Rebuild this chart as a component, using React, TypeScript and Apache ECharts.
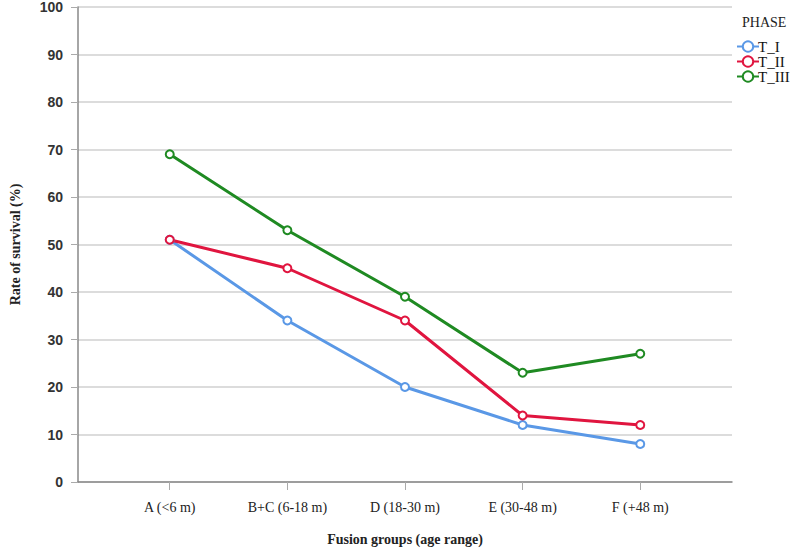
import React, { useEffect, useRef } from "react";
import * as echarts from "echarts";

const categories = ["A (<6 m)", "B+C (6-18 m)", "D (18-30 m)", "E (30-48 m)", "F (+48 m)"];
const seriesNames = ["T_I", "T_II", "T_III"];
const tI = [51, 34, 20, 12, 8];
const tII = [51, 45, 34, 14, 12];
const tIII = [69, 53, 39, 23, 27];
const colors = ["#5a98e6", "#e0153f", "#1f8a22"];
const yTicks = [0, 10, 20, 30, 40, 50, 60, 70, 80, 90, 100];

export default function App() {
  const ref = useRef<HTMLDivElement>(null);
  useEffect(() => {
    if (!ref.current) return;
    const chart = echarts.init(ref.current, null, { renderer: "svg" });
    const idx = categories.map((_, i) => i);
    const mk = (name: string, vals: number[], color: string) => ({
      name,
      type: "line",
      data: vals.map((v, i) => [i, v]),
      symbol: "emptyCircle",
      symbolSize: 8,
      lineStyle: { color, width: 3 },
      itemStyle: { color, borderColor: color, borderWidth: 1 },
      emphasis: { disabled: true },
    });
    chart.setOption({
      animation: false,
      backgroundColor: "#ffffff",
      grid: { left: 70, right: 68, top: 5, bottom: 68 },
      title: {
        text: "PHASE",
        left: 737,
        top: 10,
        textStyle: { fontFamily: "Liberation Serif", fontSize: 14, fontWeight: "normal", color: "#222" },
      },
      legend: {
        orient: "vertical",
        left: 731,
        top: 34,
        itemWidth: 22,
        itemHeight: 13,
        itemGap: 0,
        data: seriesNames,
        textStyle: { fontFamily: "Liberation Serif", fontSize: 15, color: "#111", padding: [0, 0, 0, -6] },
      },
      xAxis: {
        type: "value",
        min: -0.78,
        max: 4.78,
        name: "Fusion groups (age range)",
        nameLocation: "middle",
        nameGap: 50,
        nameTextStyle: { fontFamily: "Liberation Serif", fontSize: 14, fontWeight: "bold", color: "#222" },
        axisLine: { show: true, onZero: false, lineStyle: { color: "#888", width: 1.5 } },
        axisTick: { show: true, customValues: idx, length: 8, lineStyle: { color: "#aaa", width: 1 } },
        axisLabel: {
          customValues: idx,
          formatter: (v: number) => categories[Math.round(v)] ?? "",
          margin: 18,
          fontFamily: "Liberation Serif",
          fontSize: 14,
          color: "#222",
        },
        splitLine: { show: false },
      },
      yAxis: {
        type: "value",
        min: 0,
        max: 100,
        interval: 10,
        name: "Rate of survival (%)",
        nameLocation: "middle",
        nameGap: 56,
        nameTextStyle: { fontFamily: "Liberation Serif", fontSize: 14, fontWeight: "bold", color: "#222" },
        axisLine: { show: true, onZero: false, lineStyle: { color: "#888", width: 1.5 } },
        axisTick: { show: true, length: 7, lineStyle: { color: "#aaa", width: 1 } },
        axisLabel: {
          customValues: yTicks,
          margin: 15,
          fontFamily: "Liberation Sans",
          fontSize: 14,
          fontWeight: "bold",
          color: "#333",
        },
        splitLine: { show: true, lineStyle: { color: "#d0d0d0", width: 1.5 } },
      },
      series: [mk(seriesNames[0], tI, colors[0]), mk(seriesNames[1], tII, colors[1]), mk(seriesNames[2], tIII, colors[2])],
    });
    return () => chart.dispose();
  }, []);
  return <div ref={ref} style={{ width: 800, height: 551, position: "absolute", left: 0, top: 0 }} />;
}
